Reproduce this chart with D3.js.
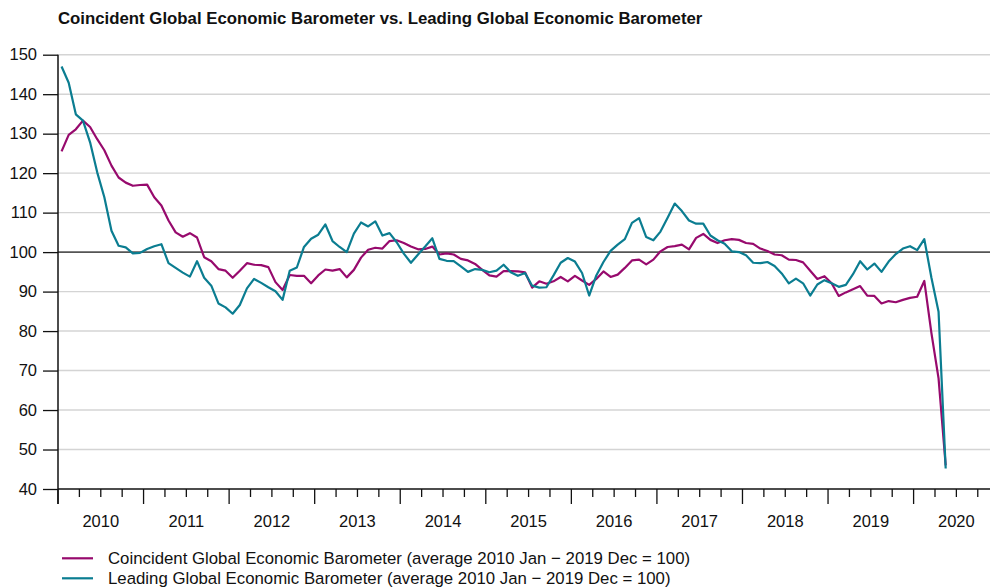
<!DOCTYPE html>
<html>
<head>
<meta charset="utf-8">
<script src="https://cdn.jsdelivr.net/npm/d3@7"></script>
<style>
  body { margin: 0; background: #fff; }
  svg text { font-family: "Liberation Sans", Arial, sans-serif; fill: #111; }
</style>
</head>
<body>
<svg id="chart"></svg>
<script>
// monthly values, Jan 2010 .. May 2020
var coincident = [
  125.5, 129.7, 131.1, 133.3, 131.7, 128.6, 125.8, 121.9, 118.9, 117.6, 116.8, 117.0,
  117.1, 113.9, 111.8, 108.0, 105.0, 103.9, 104.8, 103.7, 98.7, 97.7, 95.7, 95.3,
  93.5, 95.3, 97.2, 96.8, 96.7, 96.2, 92.4, 90.4, 94.2, 94.0, 94.0, 92.1,
  94.1, 95.6, 95.3, 95.7, 93.6, 95.5, 98.6, 100.6, 101.1, 100.9, 102.8, 103.0,
  102.3, 101.4, 100.7, 100.8, 101.4, 99.4, 99.7, 99.4, 98.3, 97.9, 97.0, 95.5,
  94.1, 93.8, 95.2, 95.2, 95.1, 94.9, 91.0, 92.6, 92.0, 92.6, 93.7, 92.6,
  94.0, 92.8, 91.7, 93.2, 95.1, 93.7, 94.3, 96.0, 97.9, 98.1, 96.9, 98.1,
  100.2, 101.3, 101.5, 101.9, 100.7, 103.6, 104.6, 103.1, 102.3, 103.0, 103.3, 103.1,
  102.3, 102.1, 100.9, 100.3, 99.4, 99.2, 98.1, 98.0, 97.4, 95.3, 93.2, 93.9,
  92.1, 88.9, 89.8, 90.6, 91.4, 89.0, 88.9, 87.0, 87.6, 87.3, 87.9, 88.4,
  88.7, 92.7, 79.5, 68.0, 46.0
];
var leading = [
  147.0, 142.9, 134.9, 133.3, 127.8, 120.2, 113.9, 105.4, 101.6, 101.2, 99.7, 99.8,
  100.8, 101.5, 102.0, 97.2, 96.0, 94.8, 93.8, 97.7, 93.5, 91.5, 87.0, 86.0,
  84.4, 86.6, 90.8, 93.2, 92.2, 91.1, 90.1, 87.9, 95.3, 96.1, 101.3, 103.4,
  104.4, 107.0, 102.8, 101.3, 100.0, 104.7, 107.5, 106.5, 107.8, 104.2, 104.8, 102.5,
  99.6, 97.3, 99.4, 101.4, 103.5, 98.3, 97.8, 97.7, 96.4, 95.0, 95.7, 95.5,
  94.9, 95.3, 96.8, 94.9, 94.0, 94.7, 91.5, 91.0, 91.1, 94.1, 97.3, 98.5,
  97.6, 94.7, 89.0, 94.1, 97.5, 100.3, 101.9, 103.3, 107.4, 108.6, 103.8, 103.0,
  105.2, 108.7, 112.3, 110.4, 108.0, 107.2, 107.2, 104.2, 103.0, 102.1, 100.2, 100.0,
  99.2, 97.3, 97.2, 97.5, 96.5, 94.6, 92.1, 93.3, 92.1, 89.0, 91.8, 92.9,
  92.1, 91.2, 91.7, 94.4, 97.7, 95.6, 97.1, 95.0, 97.6, 99.5, 100.9, 101.5,
  100.5, 103.3, 93.5, 84.9, 45.2
];
var years = [2010, 2011, 2012, 2013, 2014, 2015, 2016, 2017, 2018, 2019, 2020];
var yTicks = [40, 50, 60, 70, 80, 90, 100, 110, 120, 130, 140, 150];
var startYear = 2010;
var title = "Coincident Global Economic Barometer vs. Leading Global Economic Barometer";
var seriesNames = [
  "Coincident Global Economic Barometer (average 2010 Jan \u2212 2019 Dec = 100)",
  "Leading Global Economic Barometer (average 2010 Jan \u2212 2019 Dec = 100)"
];
var colors = ["#970a6d", "#0b7d91"];

var W = 990, H = 587;
var m = { left: 58, right: 990, top: 54.7, bottom: 489 };
var yearPx = 85.56;

var svg = d3.select('#chart').attr('width', W).attr('height', H);

var x = d3.scaleLinear()
    .domain([startYear, startYear + (m.right - m.left) / yearPx])
    .range([m.left, m.right]);
var y = d3.scaleLinear().domain([40, 150]).range([m.bottom, m.top]);

// month index -> mid-month position
var t = i => startYear + (i + 0.5) / 12;

svg.append('text')
    .attr('x', 58).attr('y', 24)
    .style('font-weight', 'bold').style('font-size', '16.8px')
    .text(title);

// gridlines
svg.append('g').selectAll('line')
    .data(yTicks.filter(d => d > 40))
    .enter().append('line')
    .attr('x1', m.left).attr('x2', m.right)
    .attr('y1', d => y(d)).attr('y2', d => y(d))
    .attr('stroke', d => d === 100 ? '#555' : '#d4d4d4')
    .attr('stroke-width', d => d === 100 ? 1.6 : 1.4);

// y axis
var yAxis = d3.axisLeft(y).tickValues(yTicks).tickSize(15).tickPadding(6).tickFormat(d3.format('d'));
var gy = svg.append('g').attr('transform', `translate(${m.left},0)`).call(yAxis);
gy.select('.domain').remove();
gy.selectAll('.tick line').attr('stroke', '#111').attr('stroke-width', 1.3);
gy.selectAll('.tick text').style('font-size', '16.5px').attr('fill', '#111');
svg.append('line')
    .attr('x1', m.left).attr('x2', m.left).attr('y1', m.top).attr('y2', m.bottom + 15)
    .attr('stroke', '#111').attr('stroke-width', 1.5);

// x axis: quarter minor ticks, year major ticks
var quarters = d3.range(startYear, startYear + 11, 0.25).filter(d => x(d) <= m.right);
var gx = svg.append('g');
gx.append('line')
    .attr('x1', m.left).attr('x2', m.right).attr('y1', m.bottom).attr('y2', m.bottom)
    .attr('stroke', '#111').attr('stroke-width', 1.6);
gx.selectAll('line.tk')
    .data(quarters)
    .enter().append('line')
    .attr('class', 'tk')
    .attr('x1', d => x(d)).attr('x2', d => x(d))
    .attr('y1', m.bottom)
    .attr('y2', d => m.bottom + (Math.abs(d - Math.round(d)) < 1e-6 ? 15 : 8))
    .attr('stroke', '#111').attr('stroke-width', 1.3);
gx.selectAll('text')
    .data(years)
    .enter().append('text')
    .attr('x', d => x(d + 0.5))
    .attr('y', 527)
    .attr('text-anchor', 'middle')
    .style('font-size', '16.5px')
    .text(d => d);

// lines
var line = d3.line().x((d, i) => x(t(i))).y(d => y(d));
[coincident, leading].forEach(function (s, k) {
    svg.append('path')
        .datum(s)
        .attr('d', line)
        .attr('fill', 'none')
        .attr('stroke', colors[k])
        .attr('stroke-width', 2.2)
        .attr('stroke-linejoin', 'round');
});

// legend
var lg = svg.append('g').selectAll('g')
    .data(seriesNames)
    .enter().append('g')
    .attr('transform', (d, i) => `translate(0,${558.3 + i * 20})`);
lg.append('line')
    .attr('x1', 62).attr('x2', 93).attr('y1', 0).attr('y2', 0)
    .attr('stroke', (d, i) => colors[i]).attr('stroke-width', 2.2);
lg.append('text')
    .attr('x', 108).attr('y', 6)
    .style('font-size', '16.8px')
    .text(d => d);
</script>
</body>
</html>
